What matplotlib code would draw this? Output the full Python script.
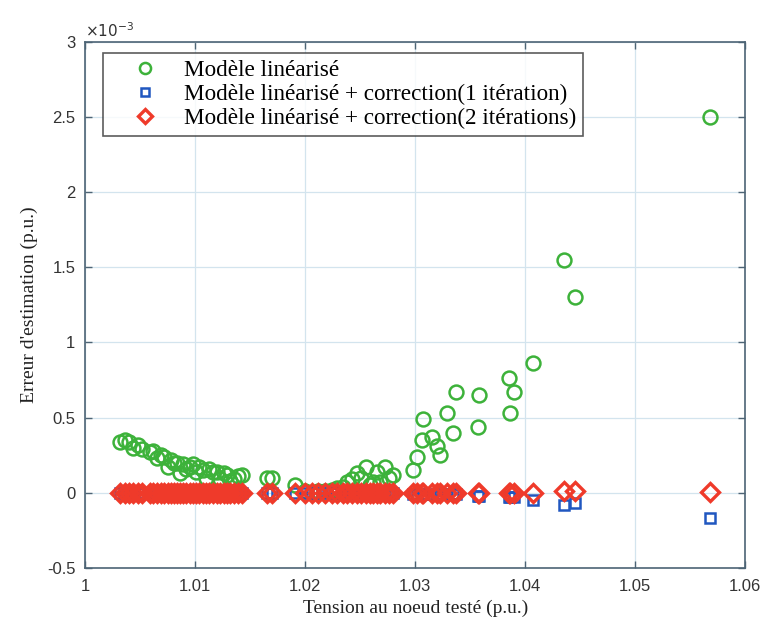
import numpy as np
import matplotlib
matplotlib.use("Agg")
import matplotlib.pyplot as plt

# ── DONNÉES (erreurs en unités de 1e-3 p.u.) ───────────────────────────────────
tension = [
    1.0032, 1.0036, 1.0040, 1.0044, 1.0048, 1.0052, 1.0059, 1.0062, 1.0065, 1.0069,
    1.0072, 1.0075, 1.0078, 1.0081, 1.0084, 1.0086, 1.0089, 1.0092, 1.0095, 1.0098,
    1.0101, 1.0104, 1.0107, 1.0110, 1.0113, 1.0116, 1.0120, 1.0123, 1.0126, 1.0129,
    1.0132, 1.0135, 1.0139, 1.0143, 1.0165, 1.0170, 1.0191, 1.0200, 1.0206, 1.0212,
    1.0218, 1.0224, 1.0229, 1.0234, 1.0238, 1.0243, 1.0247, 1.0251, 1.0255, 1.0259,
    1.0262, 1.0265, 1.0268, 1.0273, 1.0276, 1.0280, 1.0298, 1.0302, 1.0306, 1.0307,
    1.0315, 1.0320, 1.0323, 1.0329, 1.0334, 1.0337, 1.0357, 1.0358, 1.0385, 1.0386,
    1.0390, 1.0407, 1.0435, 1.0445, 1.0568,
]
err_lin = [
    0.34, 0.35, 0.34, 0.30, 0.32, 0.29, 0.27, 0.28, 0.23, 0.25,
    0.24, 0.17, 0.22, 0.20, 0.20, 0.13, 0.19, 0.16, 0.17, 0.19,
    0.14, 0.17, 0.15, 0.10, 0.16, 0.14, 0.14, 0.09, 0.13, 0.12,
    0.08, 0.09, 0.11, 0.12, 0.10, 0.10, 0.05, 0.01, 0.00, 0.01,
    0.01, 0.02, 0.03, 0.04, 0.07, 0.09, 0.13, 0.10, 0.17, 0.05,
    0.07, 0.14, 0.07, 0.17, 0.10, 0.12, 0.15, 0.24, 0.35, 0.49,
    0.37, 0.31, 0.25, 0.53, 0.40, 0.67, 0.44, 0.65, 0.76, 0.53,
    0.67, 0.86, 1.55, 1.30, 2.50,
]
err_corr1 = [
    0.0, 0.0, 0.0, 0.0, 0.0, 0.0, 0.0, 0.0, 0.0, 0.0,
    0.0, 0.0, 0.0, 0.0, 0.0, 0.0, 0.0, 0.0, 0.0, 0.0,
    0.0, 0.0, 0.0, 0.0, 0.0, 0.0, 0.0, 0.0, 0.0, 0.0,
    0.0, 0.0, 0.0, 0.0, 0.0, 0.0, 0.0, 0.0, 0.0, 0.0,
    0.0, 0.0, 0.0, 0.0, 0.0, 0.0, 0.0, 0.0, 0.0, 0.0,
    0.0, 0.0, 0.0, 0.0, 0.0, 0.0, -0.01, -0.01, -0.01, -0.01,
    -0.01, -0.01, -0.01, -0.01, -0.01, -0.01, -0.02, -0.02, -0.03, -0.03,
    -0.03, -0.05, -0.08, -0.07, -0.17,
]
err_corr2 = [
    0.0, 0.0, 0.0, 0.0, 0.0, 0.0, 0.0, 0.0, 0.0, 0.0,
    0.0, 0.0, 0.0, 0.0, 0.0, 0.0, 0.0, 0.0, 0.0, 0.0,
    0.0, 0.0, 0.0, 0.0, 0.0, 0.0, 0.0, 0.0, 0.0, 0.0,
    0.0, 0.0, 0.0, 0.0, 0.0, 0.0, 0.0, 0.0, 0.0, 0.0,
    0.0, 0.0, 0.0, 0.0, 0.0, 0.0, 0.0, 0.0, 0.0, 0.0,
    0.0, 0.0, 0.0, 0.0, 0.0, 0.0, 0.0, 0.0, 0.0, 0.0,
    0.0, 0.0, 0.0, 0.0, 0.0, 0.0, 0.0, 0.0, 0.0, 0.0,
    0.0, 0.0, 0.01, 0.01, 0.005,
]
labels = [
    "Modèle linéarisé",
    "Modèle linéarisé + correction(1 itération)",
    "Modèle linéarisé + correction(2 itérations)",
]
x_ticks = [1.0, 1.01, 1.02, 1.03, 1.04, 1.05, 1.06]
x_ticklabels = ["1", "1.01", "1.02", "1.03", "1.04", "1.05", "1.06"]
y_ticks = [-0.5e-3, 0, 0.5e-3, 1e-3, 1.5e-3, 2e-3, 2.5e-3, 3e-3]
y_ticklabels = ["-0.5", "0", "0.5", "1", "1.5", "2", "2.5", "3"]

# ── STYLE ──────────────────────────────────────────────────────────────────────
GREEN = "#3db23a"
BLUE  = "#2057c0"
RED   = "#ef3a2a"
FRAME = "#4d6475"
SERIF = ["Liberation Serif", "DejaVu Serif"]

plt.rcParams["axes.unicode_minus"] = False
plt.rcParams["font.family"] = ["Liberation Sans", "DejaVu Sans"]

fig = plt.figure(figsize=(7.66, 6.28), dpi=100)
ax = fig.add_axes([0.111, 0.096, 0.862, 0.837])

x = np.array(tension)
ax.plot(x, np.array(err_lin) * 1e-3, ls="none", marker="o", ms=10,
        mfc="none", mec=GREEN, mew=1.8, label=labels[0], zorder=3)
ax.plot(x, np.array(err_corr1) * 1e-3, ls="none", marker="s", ms=7,
        mfc="none", mec=BLUE, mew=1.8, label=labels[1], zorder=4)
ax.plot(x, np.array(err_corr2) * 1e-3, ls="none", marker="D", ms=9,
        mfc="none", mec=RED, mew=2.4, label=labels[2], zorder=5)

ax.set_xlim(1.0, 1.06)
ax.set_ylim(-0.5e-3, 3e-3)
ax.set_xticks(x_ticks)
ax.set_xticklabels(x_ticklabels)
ax.set_yticks(y_ticks)
ax.set_yticklabels(y_ticklabels)
ax.text(0.0, 1.004, r"$\times 10^{-3}$", transform=ax.transAxes,
        fontsize=11, color="#333333", ha="left", va="bottom")

ax.grid(True, color="#d3e4ee", lw=0.9)
ax.set_axisbelow(True)
for sp in ax.spines.values():
    sp.set_edgecolor(FRAME); sp.set_linewidth(1.2)
ax.tick_params(direction="in", top=True, right=True, colors=FRAME,
               labelcolor="#333333", labelsize=12, length=5, width=1)
ax.tick_params(axis="x", pad=8)
ax.tick_params(axis="y", pad=7)

ax.set_xlabel("Tension au noeud testé (p.u.)", family=SERIF, fontsize=14,
              color="#222222", labelpad=4)
ax.set_ylabel("Erreur d'estimation (p.u.)", family=SERIF, fontsize=14,
              color="#222222", labelpad=6)

leg = ax.legend(loc="upper left", bbox_to_anchor=(0.027, 0.979),
                prop={"family": SERIF, "size": 16.7}, frameon=True, fancybox=False,
                edgecolor="#333333", labelspacing=0.12, handletextpad=0.2,
                borderpad=0.3, handlelength=3.0, borderaxespad=0.0,
                markerscale=0.8)
leg.get_frame().set_linewidth(1.2)

fig.savefig("out.png", dpi=100)
